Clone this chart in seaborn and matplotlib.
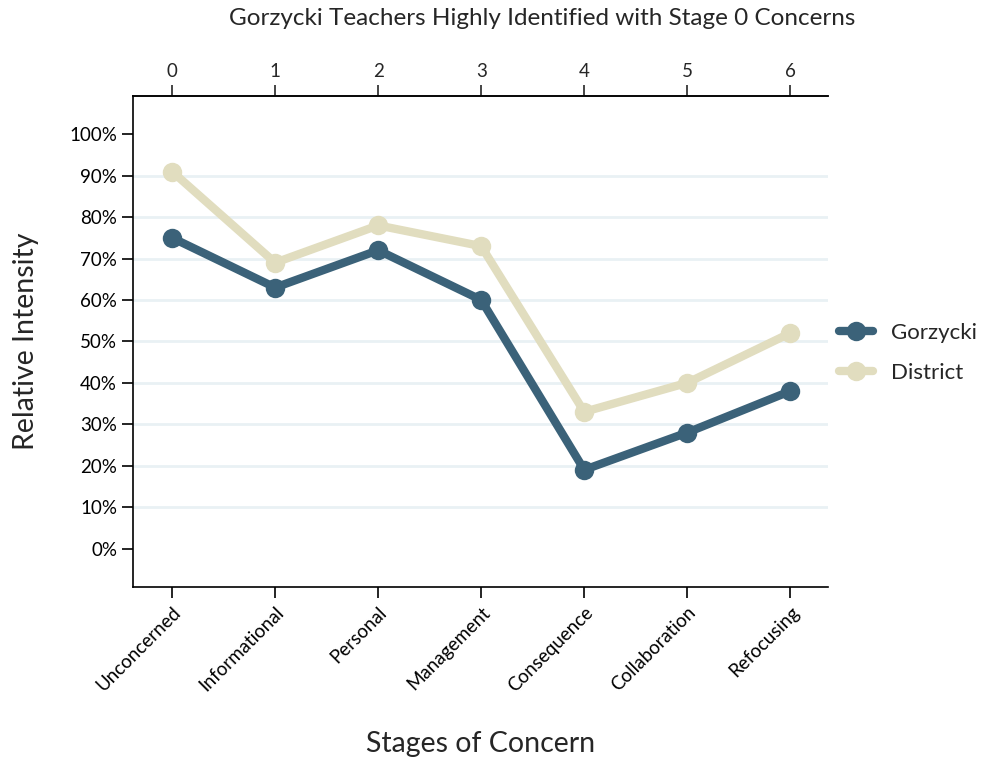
import seaborn as sns
import pandas as pd
import numpy as np
from matplotlib import pyplot as plt
from matplotlib.ticker import PercentFormatter

# data
stages = ['Unconcerned', 'Informational', 'Personal', 'Management',
          'Consequence', 'Collaboration', 'Refocusing']
stage_num = [0, 1, 2, 3, 4, 5, 6]
gorzycki = [0.75, 0.63, 0.72, 0.60, 0.19, 0.28, 0.38]
district = [0.91, 0.69, 0.78, 0.73, 0.33, 0.40, 0.52]

df = pd.DataFrame({
    'stage': stage_num * 2,
    'value': gorzycki + district,
    'group': ['Gorzycki'] * 7 + ['District'] * 7,
})

sns.set_style('white')
plt.rcParams['font.family'] = ['Lato', 'DejaVu Sans']

fig = plt.figure(figsize=(9.85, 7.57), dpi=100)
ax = fig.add_axes([0.135, 0.225, 0.706, 0.648])

pal = {'Gorzycki': '#3b6279', 'District': '#e1ddbf'}
sns.lineplot(data=df, x='stage', y='value', hue='group', hue_order=['Gorzycki', 'District'],
             palette=pal, marker='o', markersize=14, markeredgewidth=0, linewidth=6,
             ax=ax, zorder=3)

# light horizontal grid
for v in np.arange(0.1, 0.91, 0.1):
    ax.axhline(v, color='#e9f1f4', linewidth=2, zorder=1)

ax.set_xlim(-0.38, 6.37)
ax.set_ylim(-0.092, 1.092)
ax.set_yticks(np.arange(0, 1.01, 0.1))
ax.yaxis.set_major_formatter(PercentFormatter(1.0, decimals=0))
ax.set_xticks(stage_num)
ax.set_xticklabels(stages, rotation=45, ha='right', rotation_mode='anchor')
ax.tick_params(axis='both', direction='out', length=8, width=1.2, labelsize=13.5,
               left=True, bottom=True, colors='black')
ax.tick_params(axis='x', pad=4)

top = ax.secondary_xaxis('top')
top.set_xticks(stage_num)
top.tick_params(direction='out', length=8, width=1.2, labelsize=13.5)

for s in ['left', 'bottom', 'top']:
    ax.spines[s].set_visible(True)
    ax.spines[s].set_color('black')
    ax.spines[s].set_linewidth(1.2)
ax.spines['right'].set_visible(False)
top.spines['top'].set_linewidth(1.2)

ax.set_xlabel('Stages of Concern', fontsize=20.5, labelpad=26)
ax.set_ylabel('Relative Intensity', fontsize=20.5, labelpad=22)
fig.suptitle('Gorzycki Teachers Highly Identified with Stage 0 Concerns', fontsize=17.5,
             x=0.55, y=0.99)

ax.legend(title=None, frameon=False, fontsize=16, loc='center left',
          bbox_to_anchor=(1.0, 0.477), handlelength=1.5, borderaxespad=0.1,
          labelspacing=0.9)

fig.savefig('out.png', dpi=100)
